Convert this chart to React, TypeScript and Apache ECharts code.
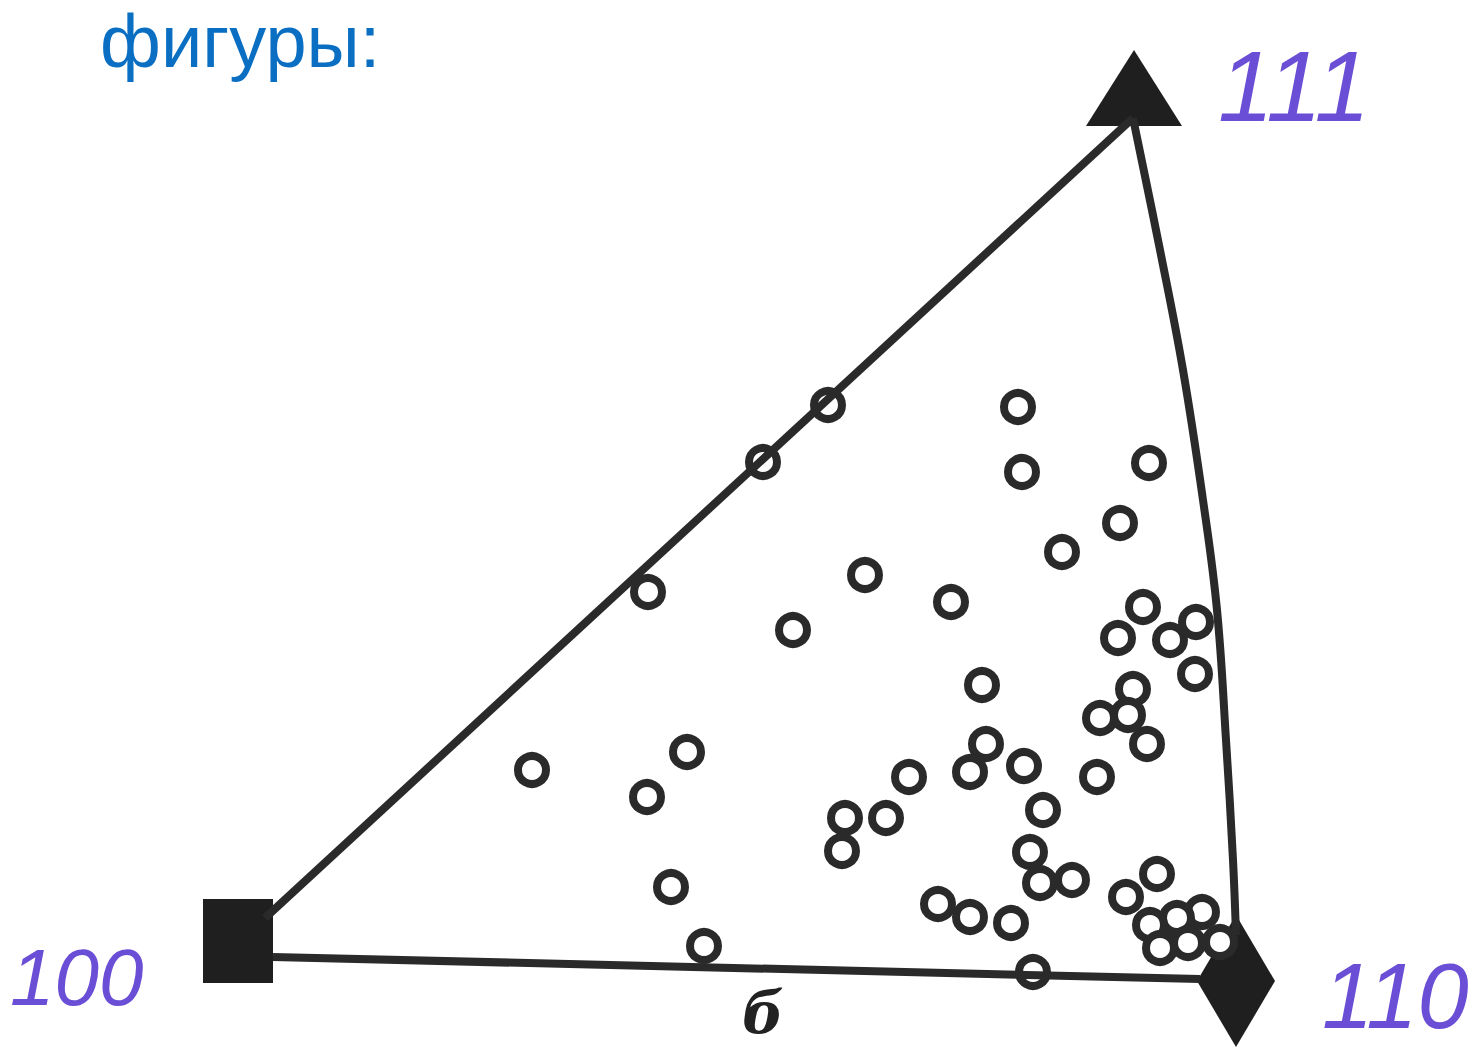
import React, { useEffect, useRef } from "react";
import * as echarts from "echarts";

// Pole positions (image coordinates: x right, y down)
const poleNames = ["100", "110", "111"];
const pole100: [number, number] = [238, 941];
const pole110: [number, number] = [1236, 981];
const pole111: [number, number] = [1134, 88];

// Triangle edges
const edge100to111: [number, number][] = [[265, 918], [1133, 118]];
const edge100to110: [number, number][] = [[273, 957], [1200, 979]];
const arc111to110: [number, number][] = [
  [1133, 118], [1160, 250], [1183, 370], [1203, 500], [1217, 610],
  [1226, 740], [1233, 860], [1236, 935],
];

// Grain orientations (pole points)
const poleX = [
  828, 763, 648, 704, 1033,
  1018, 1022, 1149, 1120, 1062, 865, 951, 793, 1143, 1118, 1170, 1196, 1195,
  982, 1133, 1100, 1128, 1147, 986, 970, 1024, 1097, 909, 532, 687, 647,
  1043, 886, 845, 842, 1030, 1040, 1072, 671, 938, 970, 1011, 1157, 1126,
  1202, 1177, 1150, 1160, 1188, 1220,
];
const poleY = [
  405, 462, 592, 946, 972,
  407, 472, 463, 523, 552, 575, 602, 630, 607, 638, 640, 622, 674,
  685, 689, 718, 715, 744, 744, 772, 766, 777, 777, 770, 752, 797,
  810, 818, 818, 851, 852, 883, 880, 887, 904, 917, 923, 874, 897,
  912, 918, 925, 948, 943, 942,
];

const titleText = "фигуры:";
const figureLetter = "б";

export default function App() {
  const ref = useRef<HTMLDivElement>(null);
  useEffect(() => {
    document.body.style.margin = "0";
    const chart = echarts.init(ref.current!, null, { renderer: "svg" });
    const ink = "#2a2a2a";
    const labelColor = "#6a4fd6";
    const points = poleX.map((x, i) => [x, poleY[i]]);
    chart.setOption({
      animation: false,
      backgroundColor: "#ffffff",
      grid: { left: 0, right: 0, top: 0, bottom: 0 },
      xAxis: { type: "value", min: 0, max: 1476, show: false },
      yAxis: { type: "value", min: 0, max: 1050, inverse: true, show: false },
      series: [
        {
          type: "line",
          data: edge100to111,
          symbol: "none",
          lineStyle: { color: ink, width: 8 },
          silent: true,
        },
        {
          type: "line",
          data: edge100to110,
          symbol: "none",
          lineStyle: { color: ink, width: 8 },
          silent: true,
        },
        {
          type: "line",
          data: arc111to110,
          smooth: 0.4,
          symbol: "none",
          lineStyle: { color: ink, width: 8 },
          silent: true,
        },
        {
          type: "scatter",
          data: [
            { name: poleNames[0], value: pole100, symbol: "rect", symbolSize: [70, 84] },
            { name: poleNames[1], value: pole110, symbol: "diamond", symbolSize: [78, 132] },
            { name: poleNames[2], value: pole111, symbol: "triangle", symbolSize: [96, 76] },
          ],
          itemStyle: { color: "#1f1f1f", opacity: 1 },
          silent: true,
        },
        {
          type: "scatter",
          data: points,
          symbol: "circle",
          symbolSize: 28,
          itemStyle: { color: "#ffffff", borderColor: ink, borderWidth: 8, opacity: 1 },
          silent: true,
        },
      ],
      graphic: [
        {
          type: "text",
          left: 100,
          top: 4,
          style: {
            text: titleText,
            font: '74px "Liberation Sans", Arial, sans-serif',
            fill: "#0a6fc2",
          },
        },
        {
          type: "text",
          left: 1218,
          top: 36,
          style: {
            text: "111",
            font: 'italic 100px "Liberation Sans", sans-serif',
            fill: labelColor,
          },
        },
        {
          type: "text",
          left: 10,
          top: 937,
          style: {
            text: "100",
            font: 'italic 80px "Liberation Sans", sans-serif',
            fill: labelColor,
          },
        },
        {
          type: "text",
          left: 1322,
          top: 950,
          style: {
            text: "110",
            font: 'italic 92px "Liberation Sans", sans-serif',
            fill: labelColor,
          },
        },
        {
          type: "text",
          left: 742,
          top: 984,
          style: {
            text: figureLetter,
            font: 'italic bold 58px "DejaVu Serif", serif',
            fill: "#222222",
          },
        },
      ],
    });
    return () => chart.dispose();
  }, []);
  return <div ref={ref} style={{ width: 1476, height: 1050 }} />;
}
